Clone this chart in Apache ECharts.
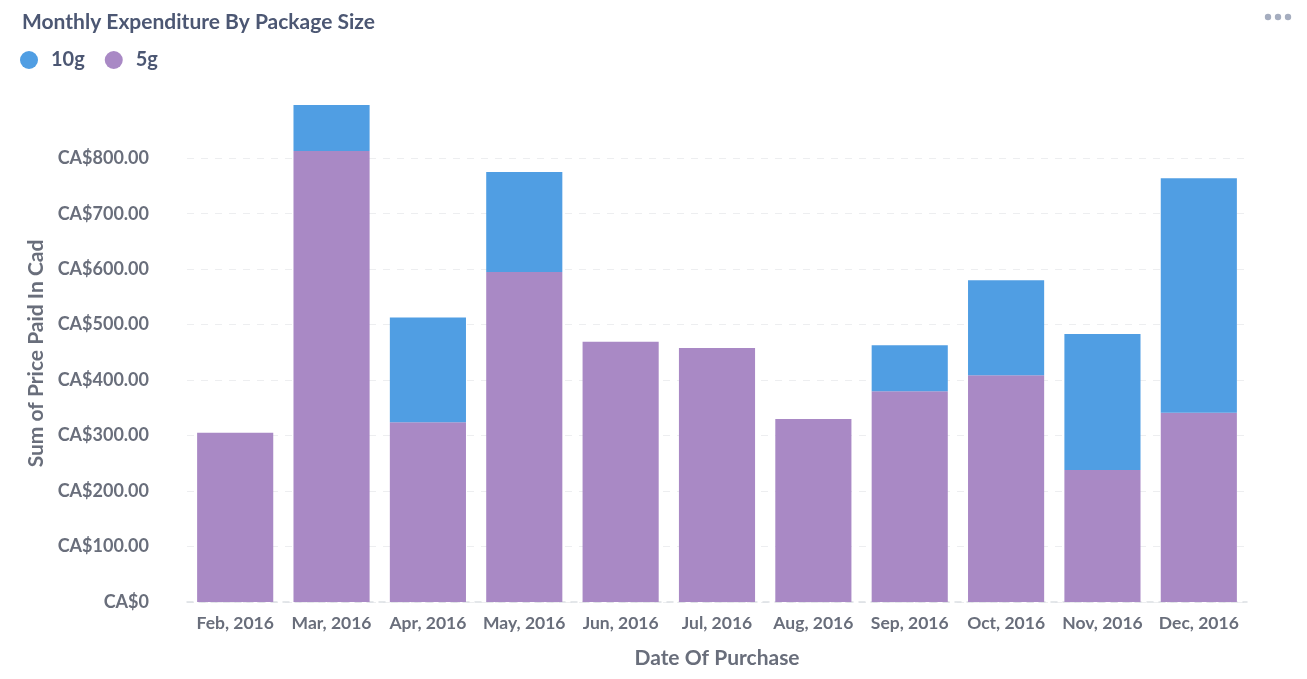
<!DOCTYPE html>
<html><head><meta charset="utf-8">
<script src="https://cdn.jsdelivr.net/npm/echarts@6/dist/echarts.min.js"></script>
<style>html,body{margin:0;padding:0;background:#fff}#c{width:1307px;height:679px}</style>
</head><body><div id="c"></div>
<script>
const categories = ['Feb, 2016','Mar, 2016','Apr, 2016','May, 2016','Jun, 2016','Jul, 2016','Aug, 2016','Sep, 2016','Oct, 2016','Nov, 2016','Dec, 2016'];
const values5g  = [305, 813, 324, 595, 469, 458, 330, 380, 409, 238, 341];
const values10g = [0, 83, 189, 180, 0, 0, 0, 83, 171, 245, 423];
const yTickInterval = 100;

const chart = echarts.init(document.getElementById('c'));
const font = 'Lato, "Noto Sans", sans-serif';
chart.setOption({
  animation: false,
  title: { text: 'Monthly Expenditure By Package Size', left: 17, top: 7,
    textStyle: { fontFamily: font, fontSize: 21, fontWeight: 'bold', color: '#4C5773' } },
  legend: { data: ['10g','5g'], left: 15, top: 45, icon: 'circle', itemWidth: 18, itemHeight: 18, itemGap: 20,
    textStyle: { fontFamily: font, fontSize: 20, fontWeight: 'bold', color: '#4C5773', padding: [0,0,0,8] } },
  graphic: [0,1,2].map(i => ({ type: 'circle', shape: { cx: 1268 + i*10, cy: 17, r: 3.2 }, style: { fill: '#A5ADBF' } })),
  grid: { left: 187, width: 1060, top: 105, bottom: 77 },
  xAxis: { type: 'category', data: categories,
    axisLine: { lineStyle: { color: '#DCDFE4', type: [6,6], width: 1.5 } },
    axisTick: { show: false },
    axisLabel: { interval: 0, fontFamily: font, fontSize: 17.5, fontWeight: 'bold', color: '#696E7B', margin: 12 },
    name: 'Date Of Purchase', nameLocation: 'middle', nameGap: 46,
    nameTextStyle: { fontFamily: font, fontSize: 21, fontWeight: 'bold', color: '#696E7B' } },
  yAxis: { type: 'value', min: 0, max: v => v.max, interval: yTickInterval,
    axisLine: { show: false }, axisTick: { show: false },
    splitLine: { showMaxLine: false, lineStyle: { color: '#EDEEF0', type: [7,7] } },
    axisLabel: { showMaxLabel: false, fontFamily: font, fontSize: 18, fontWeight: 'bold', color: '#696E7B', margin: 38,
      formatter: v => v === 0 ? 'CA$0' : 'CA$' + v.toFixed(2) },
    name: 'Sum of Price Paid In Cad', nameLocation: 'middle', nameGap: 140, nameRotate: 90,
    nameTextStyle: { fontFamily: font, fontSize: 21, fontWeight: 'bold', color: '#696E7B' } },
  series: [
    { name: '5g', type: 'bar', stack: 't', data: values5g, barCategoryGap: '21%', itemStyle: { color: '#A989C5' } },
    { name: '10g', type: 'bar', stack: 't', data: values10g, barCategoryGap: '21%', itemStyle: { color: '#509EE3' } }
  ],
  color: ['#A989C5','#509EE3']
});
</script></body></html>
